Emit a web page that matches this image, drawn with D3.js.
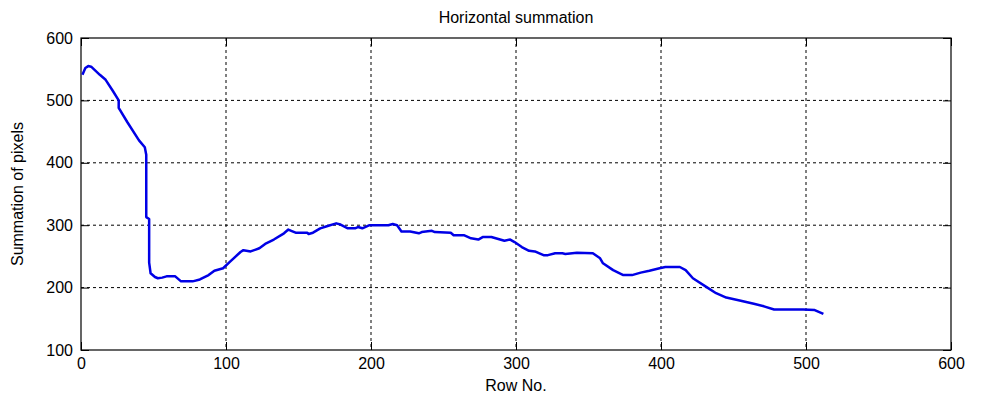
<!DOCTYPE html>
<html>
<head>
<meta charset="utf-8">
<script src="https://cdn.jsdelivr.net/npm/d3@7"></script>
<style>
  body { margin: 0; background: #fff; }
  text { font-family: "Liberation Sans", Arial, sans-serif; fill: #000; }
</style>
</head>
<body>
<div id="chart"></div>
<script>
// data
var rows = [1, 3, 5, 7, 13, 17, 22, 26, 26, 32, 40, 44, 45, 45, 47, 47, 48, 51, 53, 56, 59, 65, 69, 77,
    82, 88, 92, 98, 103, 110, 112, 117, 123, 127, 133, 140, 143, 145, 148, 156, 157, 160, 165, 169,
    176, 179, 184, 189, 191, 194, 199, 212, 215, 218, 221, 227, 233, 235, 242, 244, 255, 257, 264,
    269, 274, 277, 283, 289, 292, 296, 299, 304, 309, 313, 319, 322, 327, 332, 334, 342, 353, 358,
    360, 367, 374, 380, 386, 392, 399, 403, 413, 417, 422, 432, 438, 445, 455, 464, 471, 478, 498,
    506, 512];
var sums = [541, 552, 555, 554, 541, 533, 515, 500, 488, 465, 436, 425, 413, 313, 310, 240, 223, 217,
    215, 216, 218, 218, 210, 210, 213, 220, 227, 231, 242, 257, 260, 258, 263, 270, 277, 287, 293, 291,
    288, 288, 286, 288, 295, 298, 303, 301, 295, 295, 297, 295, 300, 300, 302, 300, 290, 290, 287, 289,
    291, 289, 288, 284, 284, 279, 277, 281, 281, 277, 275, 277, 273, 265, 259, 258, 252, 252, 255, 255,
    254, 256, 255, 247, 239, 228, 220, 220, 224, 227, 231, 233, 233, 228, 215, 200, 191, 184, 179, 174,
    170, 165, 165, 164, 158];
var xTicks = [0, 100, 200, 300, 400, 500, 600];
var yTicks = [100, 200, 300, 400, 500, 600];

var svgWidth = 983, svgHeight = 400;
var margin = {top: 38, right: 32, bottom: 50, left: 81};
var width = svgWidth - margin.left - margin.right;
var height = svgHeight - margin.top - margin.bottom;

var svg = d3.select("#chart").append("svg")
    .attr("width", svgWidth)
    .attr("height", svgHeight);

var g = svg.append("g")
    .attr("transform", "translate(" + margin.left + "," + margin.top + ")");

var x = d3.scaleLinear().domain([0, 600]).range([0, width]);
var y = d3.scaleLinear().domain([100, 600]).range([height, 0]);

// grid
g.append("g").selectAll("line")
    .data(xTicks.slice(1, -1))
    .enter().append("line")
    .attr("x1", d => x(d)).attr("x2", d => x(d))
    .attr("y1", 0).attr("y2", height)
    .attr("stroke", "#000").attr("stroke-width", 1)
    .attr("stroke-dasharray", "3,3");

g.append("g").selectAll("line")
    .data(yTicks.slice(1, -1))
    .enter().append("line")
    .attr("x1", 0).attr("x2", width)
    .attr("y1", d => y(d)).attr("y2", d => y(d))
    .attr("stroke", "#000").attr("stroke-width", 1)
    .attr("stroke-dasharray", "3,3");

// axes, ticks inward like matlab
var tl = 8;
g.append("g")
    .attr("transform", "translate(0," + height + ")")
    .call(d3.axisBottom(x).tickValues(xTicks).tickSizeInner(-tl).tickSizeOuter(0).tickPadding(8))
    .call(a => a.select(".domain").remove())
    .call(a => a.selectAll("text").attr("font-size", "16px"));

g.append("g")
    .call(d3.axisLeft(y).tickValues(yTicks).tickSizeInner(-tl).tickSizeOuter(0).tickPadding(8))
    .call(a => a.select(".domain").remove())
    .call(a => a.selectAll("text").attr("font-size", "16px"));

g.append("g")
    .call(d3.axisTop(x).tickValues(xTicks).tickSizeInner(-tl).tickSizeOuter(0).tickFormat(""))
    .call(a => a.select(".domain").remove());

g.append("g")
    .attr("transform", "translate(" + width + ",0)")
    .call(d3.axisRight(y).tickValues(yTicks).tickSizeInner(-tl).tickSizeOuter(0).tickFormat(""))
    .call(a => a.select(".domain").remove());

g.selectAll(".tick line").attr("stroke", "#000");

g.append("rect")
    .attr("width", width).attr("height", height)
    .attr("fill", "none").attr("stroke", "#000").attr("stroke-width", 1.2);

// the curve
var line = d3.line()
    .x((d, i) => x(rows[i]))
    .y(d => y(d));

g.append("path")
    .datum(sums)
    .attr("fill", "none")
    .attr("stroke", "#0000e6")
    .attr("stroke-width", 2.5)
    .attr("stroke-linejoin", "round")
    .attr("d", line);

// labels
svg.append("text")
    .attr("x", margin.left + width / 2).attr("y", 23)
    .attr("text-anchor", "middle").attr("font-size", "16px")
    .text("Horizontal summation");

svg.append("text")
    .attr("x", margin.left + width / 2).attr("y", 391)
    .attr("text-anchor", "middle").attr("font-size", "16px")
    .text("Row No.");

svg.append("text")
    .attr("transform", "translate(23," + (margin.top + height / 2) + ") rotate(-90)")
    .attr("text-anchor", "middle").attr("font-size", "16px")
    .text("Summation of pixels");
</script>
</body>
</html>
